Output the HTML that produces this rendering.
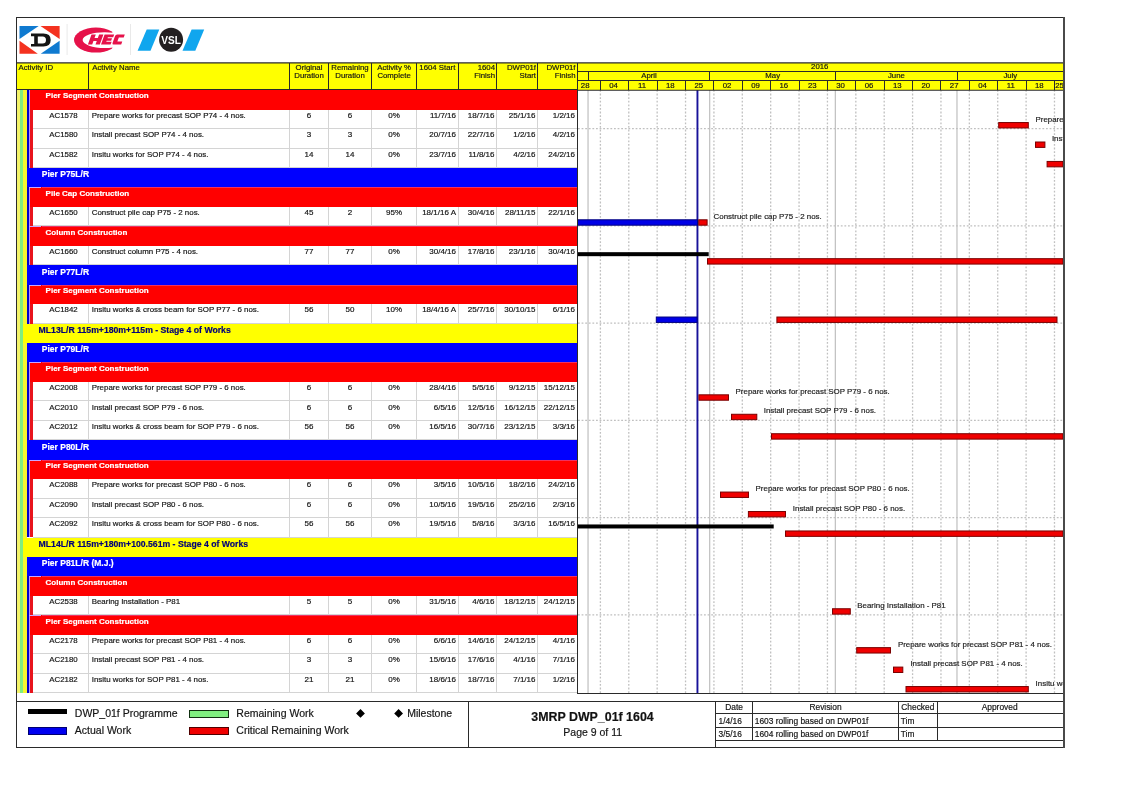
<!DOCTYPE html>
<html><head><meta charset="utf-8"><title>3MRP DWP_01f 1604</title>
<style>
html,body{margin:0;padding:0;background:#fff;}
body{width:1123px;height:793px;position:relative;overflow:hidden;font-family:"Liberation Sans", sans-serif;}
#p{position:absolute;left:0;top:0;width:1123px;height:793px;overflow:hidden;will-change:transform;}
#p div{position:absolute;white-space:nowrap;-webkit-text-stroke:0.18px currentColor;}
#p svg{position:absolute;left:0;top:0;}
</style></head><body><div id="p">
<div style="left:17.00px;top:63.00px;width:1046.50px;height:27.00px;background:#ffff00;"></div>
<div style="left:17.00px;top:90.20px;width:2.50px;height:602.89px;background:#f4f46a;"></div>
<div style="left:19.50px;top:90.20px;width:3.70px;height:602.89px;background:#80ee80;"></div>
<div style="left:23.20px;top:90.20px;width:3.40px;height:602.89px;background:#f6f630;"></div>
<div style="left:26.50px;top:90.20px;width:2.60px;height:19.45px;background:#0000c8;"></div>
<div style="left:29.10px;top:90.20px;width:1.20px;height:19.45px;background:#b090ff;"></div>
<div style="left:30.30px;top:90.20px;width:546.70px;height:19.45px;background:#ff0000;"></div>
<div style="left:45.60px;top:91.45px;font-size:8px;line-height:9px;color:#fff;font-weight:bold;">Pier Segment Construction</div>
<div style="left:26.50px;top:109.65px;width:2.60px;height:19.45px;background:#0000c8;"></div>
<div style="left:29.10px;top:109.65px;width:1.20px;height:19.45px;background:#b090ff;"></div>
<div style="left:30.30px;top:109.65px;width:3.00px;height:19.45px;background:#e8141c;"></div>
<div style="left:33.30px;top:128.20px;width:543.70px;height:1.00px;background:#d4d4d4;"></div>
<div style="left:88.10px;top:109.65px;width:1.00px;height:19.45px;background:#d4d4d4;"></div>
<div style="left:289.00px;top:109.65px;width:1.00px;height:19.45px;background:#d4d4d4;"></div>
<div style="left:328.00px;top:109.65px;width:1.00px;height:19.45px;background:#d4d4d4;"></div>
<div style="left:371.00px;top:109.65px;width:1.00px;height:19.45px;background:#d4d4d4;"></div>
<div style="left:416.20px;top:109.65px;width:1.00px;height:19.45px;background:#d4d4d4;"></div>
<div style="left:457.50px;top:109.65px;width:1.00px;height:19.45px;background:#d4d4d4;"></div>
<div style="left:496.00px;top:109.65px;width:1.00px;height:19.45px;background:#d4d4d4;"></div>
<div style="left:537.00px;top:109.65px;width:1.00px;height:19.45px;background:#d4d4d4;"></div>
<div style="left:38.50px;top:110.90px;font-size:7.85px;line-height:9px;color:#141414;width:50.00px;text-align:center;">AC1578</div>
<div style="left:91.70px;top:110.90px;font-size:7.92px;line-height:9px;color:#141414;">Prepare works for precast SOP P74 - 4 nos.</div>
<div style="left:289.50px;top:110.90px;font-size:8px;line-height:9px;color:#141414;width:39.00px;text-align:center;">6</div>
<div style="left:328.50px;top:110.90px;font-size:8px;line-height:9px;color:#141414;width:43.00px;text-align:center;">6</div>
<div style="left:371.50px;top:110.90px;font-size:8px;line-height:9px;color:#141414;width:45.20px;text-align:center;">0%</div>
<div style="left:416.70px;top:110.90px;font-size:8px;line-height:9px;color:#141414;width:39.30px;text-align:right;">11/7/16</div>
<div style="left:458.00px;top:110.90px;font-size:8px;line-height:9px;color:#141414;width:36.50px;text-align:right;">18/7/16</div>
<div style="left:496.50px;top:110.90px;font-size:8px;line-height:9px;color:#141414;width:39.00px;text-align:right;">25/1/16</div>
<div style="left:537.50px;top:110.90px;font-size:8px;line-height:9px;color:#141414;width:37.50px;text-align:right;">1/2/16</div>
<div style="left:26.50px;top:129.10px;width:2.60px;height:19.45px;background:#0000c8;"></div>
<div style="left:29.10px;top:129.10px;width:1.20px;height:19.45px;background:#b090ff;"></div>
<div style="left:30.30px;top:129.10px;width:3.00px;height:19.45px;background:#e8141c;"></div>
<div style="left:33.30px;top:147.64px;width:543.70px;height:1.00px;background:#d4d4d4;"></div>
<div style="left:88.10px;top:129.10px;width:1.00px;height:19.45px;background:#d4d4d4;"></div>
<div style="left:289.00px;top:129.10px;width:1.00px;height:19.45px;background:#d4d4d4;"></div>
<div style="left:328.00px;top:129.10px;width:1.00px;height:19.45px;background:#d4d4d4;"></div>
<div style="left:371.00px;top:129.10px;width:1.00px;height:19.45px;background:#d4d4d4;"></div>
<div style="left:416.20px;top:129.10px;width:1.00px;height:19.45px;background:#d4d4d4;"></div>
<div style="left:457.50px;top:129.10px;width:1.00px;height:19.45px;background:#d4d4d4;"></div>
<div style="left:496.00px;top:129.10px;width:1.00px;height:19.45px;background:#d4d4d4;"></div>
<div style="left:537.00px;top:129.10px;width:1.00px;height:19.45px;background:#d4d4d4;"></div>
<div style="left:38.50px;top:130.35px;font-size:7.85px;line-height:9px;color:#141414;width:50.00px;text-align:center;">AC1580</div>
<div style="left:91.70px;top:130.35px;font-size:7.92px;line-height:9px;color:#141414;">Install precast SOP P74 - 4 nos.</div>
<div style="left:289.50px;top:130.35px;font-size:8px;line-height:9px;color:#141414;width:39.00px;text-align:center;">3</div>
<div style="left:328.50px;top:130.35px;font-size:8px;line-height:9px;color:#141414;width:43.00px;text-align:center;">3</div>
<div style="left:371.50px;top:130.35px;font-size:8px;line-height:9px;color:#141414;width:45.20px;text-align:center;">0%</div>
<div style="left:416.70px;top:130.35px;font-size:8px;line-height:9px;color:#141414;width:39.30px;text-align:right;">20/7/16</div>
<div style="left:458.00px;top:130.35px;font-size:8px;line-height:9px;color:#141414;width:36.50px;text-align:right;">22/7/16</div>
<div style="left:496.50px;top:130.35px;font-size:8px;line-height:9px;color:#141414;width:39.00px;text-align:right;">1/2/16</div>
<div style="left:537.50px;top:130.35px;font-size:8px;line-height:9px;color:#141414;width:37.50px;text-align:right;">4/2/16</div>
<div style="left:26.50px;top:148.54px;width:2.60px;height:19.45px;background:#0000c8;"></div>
<div style="left:29.10px;top:148.54px;width:1.20px;height:19.45px;background:#b090ff;"></div>
<div style="left:30.30px;top:148.54px;width:3.00px;height:19.45px;background:#e8141c;"></div>
<div style="left:33.30px;top:167.09px;width:543.70px;height:1.00px;background:#d4d4d4;"></div>
<div style="left:88.10px;top:148.54px;width:1.00px;height:19.45px;background:#d4d4d4;"></div>
<div style="left:289.00px;top:148.54px;width:1.00px;height:19.45px;background:#d4d4d4;"></div>
<div style="left:328.00px;top:148.54px;width:1.00px;height:19.45px;background:#d4d4d4;"></div>
<div style="left:371.00px;top:148.54px;width:1.00px;height:19.45px;background:#d4d4d4;"></div>
<div style="left:416.20px;top:148.54px;width:1.00px;height:19.45px;background:#d4d4d4;"></div>
<div style="left:457.50px;top:148.54px;width:1.00px;height:19.45px;background:#d4d4d4;"></div>
<div style="left:496.00px;top:148.54px;width:1.00px;height:19.45px;background:#d4d4d4;"></div>
<div style="left:537.00px;top:148.54px;width:1.00px;height:19.45px;background:#d4d4d4;"></div>
<div style="left:38.50px;top:149.79px;font-size:7.85px;line-height:9px;color:#141414;width:50.00px;text-align:center;">AC1582</div>
<div style="left:91.70px;top:149.79px;font-size:7.92px;line-height:9px;color:#141414;">Insitu works for SOP P74 - 4 nos.</div>
<div style="left:289.50px;top:149.79px;font-size:8px;line-height:9px;color:#141414;width:39.00px;text-align:center;">14</div>
<div style="left:328.50px;top:149.79px;font-size:8px;line-height:9px;color:#141414;width:43.00px;text-align:center;">14</div>
<div style="left:371.50px;top:149.79px;font-size:8px;line-height:9px;color:#141414;width:45.20px;text-align:center;">0%</div>
<div style="left:416.70px;top:149.79px;font-size:8px;line-height:9px;color:#141414;width:39.30px;text-align:right;">23/7/16</div>
<div style="left:458.00px;top:149.79px;font-size:8px;line-height:9px;color:#141414;width:36.50px;text-align:right;">11/8/16</div>
<div style="left:496.50px;top:149.79px;font-size:8px;line-height:9px;color:#141414;width:39.00px;text-align:right;">4/2/16</div>
<div style="left:537.50px;top:149.79px;font-size:8px;line-height:9px;color:#141414;width:37.50px;text-align:right;">24/2/16</div>
<div style="left:26.50px;top:167.99px;width:550.50px;height:19.45px;background:#0000ff;"></div>
<div style="left:41.80px;top:169.29px;font-size:8.5px;line-height:10px;color:#fff;font-weight:bold;">Pier P75L/R</div>
<div style="left:26.50px;top:187.44px;width:2.60px;height:19.45px;background:#0000c8;"></div>
<div style="left:29.10px;top:187.44px;width:1.20px;height:19.45px;background:#b090ff;"></div>
<div style="left:30.30px;top:187.44px;width:546.70px;height:19.45px;background:#ff0000;"></div>
<div style="left:29.10px;top:187.44px;width:12.40px;height:1.00px;background:#c9a6ff;"></div>
<div style="left:41.50px;top:187.44px;width:535.50px;height:1.00px;background:#f03060;"></div>
<div style="left:45.60px;top:188.69px;font-size:8px;line-height:9px;color:#fff;font-weight:bold;">Pile Cap Construction</div>
<div style="left:26.50px;top:206.89px;width:2.60px;height:19.45px;background:#0000c8;"></div>
<div style="left:29.10px;top:206.89px;width:1.20px;height:19.45px;background:#b090ff;"></div>
<div style="left:30.30px;top:206.89px;width:3.00px;height:19.45px;background:#e8141c;"></div>
<div style="left:33.30px;top:225.44px;width:543.70px;height:1.00px;background:#d4d4d4;"></div>
<div style="left:88.10px;top:206.89px;width:1.00px;height:19.45px;background:#d4d4d4;"></div>
<div style="left:289.00px;top:206.89px;width:1.00px;height:19.45px;background:#d4d4d4;"></div>
<div style="left:328.00px;top:206.89px;width:1.00px;height:19.45px;background:#d4d4d4;"></div>
<div style="left:371.00px;top:206.89px;width:1.00px;height:19.45px;background:#d4d4d4;"></div>
<div style="left:416.20px;top:206.89px;width:1.00px;height:19.45px;background:#d4d4d4;"></div>
<div style="left:457.50px;top:206.89px;width:1.00px;height:19.45px;background:#d4d4d4;"></div>
<div style="left:496.00px;top:206.89px;width:1.00px;height:19.45px;background:#d4d4d4;"></div>
<div style="left:537.00px;top:206.89px;width:1.00px;height:19.45px;background:#d4d4d4;"></div>
<div style="left:38.50px;top:208.14px;font-size:7.85px;line-height:9px;color:#141414;width:50.00px;text-align:center;">AC1650</div>
<div style="left:91.70px;top:208.14px;font-size:7.92px;line-height:9px;color:#141414;">Construct pile cap P75 - 2 nos.</div>
<div style="left:289.50px;top:208.14px;font-size:8px;line-height:9px;color:#141414;width:39.00px;text-align:center;">45</div>
<div style="left:328.50px;top:208.14px;font-size:8px;line-height:9px;color:#141414;width:43.00px;text-align:center;">2</div>
<div style="left:371.50px;top:208.14px;font-size:8px;line-height:9px;color:#141414;width:45.20px;text-align:center;">95%</div>
<div style="left:416.70px;top:208.14px;font-size:8px;line-height:9px;color:#141414;width:39.30px;text-align:right;">18/1/16 A</div>
<div style="left:458.00px;top:208.14px;font-size:8px;line-height:9px;color:#141414;width:36.50px;text-align:right;">30/4/16</div>
<div style="left:496.50px;top:208.14px;font-size:8px;line-height:9px;color:#141414;width:39.00px;text-align:right;">28/11/15</div>
<div style="left:537.50px;top:208.14px;font-size:8px;line-height:9px;color:#141414;width:37.50px;text-align:right;">22/1/16</div>
<div style="left:26.50px;top:226.34px;width:2.60px;height:19.45px;background:#0000c8;"></div>
<div style="left:29.10px;top:226.34px;width:1.20px;height:19.45px;background:#b090ff;"></div>
<div style="left:30.30px;top:226.34px;width:546.70px;height:19.45px;background:#ff0000;"></div>
<div style="left:29.10px;top:226.34px;width:12.40px;height:1.00px;background:#c9a6ff;"></div>
<div style="left:41.50px;top:226.34px;width:535.50px;height:1.00px;background:#f03060;"></div>
<div style="left:45.60px;top:227.59px;font-size:8px;line-height:9px;color:#fff;font-weight:bold;">Column Construction</div>
<div style="left:26.50px;top:245.78px;width:2.60px;height:19.45px;background:#0000c8;"></div>
<div style="left:29.10px;top:245.78px;width:1.20px;height:19.45px;background:#b090ff;"></div>
<div style="left:30.30px;top:245.78px;width:3.00px;height:19.45px;background:#e8141c;"></div>
<div style="left:33.30px;top:264.33px;width:543.70px;height:1.00px;background:#d4d4d4;"></div>
<div style="left:88.10px;top:245.78px;width:1.00px;height:19.45px;background:#d4d4d4;"></div>
<div style="left:289.00px;top:245.78px;width:1.00px;height:19.45px;background:#d4d4d4;"></div>
<div style="left:328.00px;top:245.78px;width:1.00px;height:19.45px;background:#d4d4d4;"></div>
<div style="left:371.00px;top:245.78px;width:1.00px;height:19.45px;background:#d4d4d4;"></div>
<div style="left:416.20px;top:245.78px;width:1.00px;height:19.45px;background:#d4d4d4;"></div>
<div style="left:457.50px;top:245.78px;width:1.00px;height:19.45px;background:#d4d4d4;"></div>
<div style="left:496.00px;top:245.78px;width:1.00px;height:19.45px;background:#d4d4d4;"></div>
<div style="left:537.00px;top:245.78px;width:1.00px;height:19.45px;background:#d4d4d4;"></div>
<div style="left:38.50px;top:247.03px;font-size:7.85px;line-height:9px;color:#141414;width:50.00px;text-align:center;">AC1660</div>
<div style="left:91.70px;top:247.03px;font-size:7.92px;line-height:9px;color:#141414;">Construct column P75 - 4 nos.</div>
<div style="left:289.50px;top:247.03px;font-size:8px;line-height:9px;color:#141414;width:39.00px;text-align:center;">77</div>
<div style="left:328.50px;top:247.03px;font-size:8px;line-height:9px;color:#141414;width:43.00px;text-align:center;">77</div>
<div style="left:371.50px;top:247.03px;font-size:8px;line-height:9px;color:#141414;width:45.20px;text-align:center;">0%</div>
<div style="left:416.70px;top:247.03px;font-size:8px;line-height:9px;color:#141414;width:39.30px;text-align:right;">30/4/16</div>
<div style="left:458.00px;top:247.03px;font-size:8px;line-height:9px;color:#141414;width:36.50px;text-align:right;">17/8/16</div>
<div style="left:496.50px;top:247.03px;font-size:8px;line-height:9px;color:#141414;width:39.00px;text-align:right;">23/1/16</div>
<div style="left:537.50px;top:247.03px;font-size:8px;line-height:9px;color:#141414;width:37.50px;text-align:right;">30/4/16</div>
<div style="left:26.50px;top:265.23px;width:550.50px;height:19.45px;background:#0000ff;"></div>
<div style="left:41.80px;top:266.53px;font-size:8.5px;line-height:10px;color:#fff;font-weight:bold;">Pier P77L/R</div>
<div style="left:26.50px;top:284.68px;width:2.60px;height:19.45px;background:#0000c8;"></div>
<div style="left:29.10px;top:284.68px;width:1.20px;height:19.45px;background:#b090ff;"></div>
<div style="left:30.30px;top:284.68px;width:546.70px;height:19.45px;background:#ff0000;"></div>
<div style="left:29.10px;top:284.68px;width:12.40px;height:1.00px;background:#c9a6ff;"></div>
<div style="left:41.50px;top:284.68px;width:535.50px;height:1.00px;background:#f03060;"></div>
<div style="left:45.60px;top:285.93px;font-size:8px;line-height:9px;color:#fff;font-weight:bold;">Pier Segment Construction</div>
<div style="left:26.50px;top:304.13px;width:2.60px;height:19.45px;background:#0000c8;"></div>
<div style="left:29.10px;top:304.13px;width:1.20px;height:19.45px;background:#b090ff;"></div>
<div style="left:30.30px;top:304.13px;width:3.00px;height:19.45px;background:#e8141c;"></div>
<div style="left:33.30px;top:322.68px;width:543.70px;height:1.00px;background:#d4d4d4;"></div>
<div style="left:88.10px;top:304.13px;width:1.00px;height:19.45px;background:#d4d4d4;"></div>
<div style="left:289.00px;top:304.13px;width:1.00px;height:19.45px;background:#d4d4d4;"></div>
<div style="left:328.00px;top:304.13px;width:1.00px;height:19.45px;background:#d4d4d4;"></div>
<div style="left:371.00px;top:304.13px;width:1.00px;height:19.45px;background:#d4d4d4;"></div>
<div style="left:416.20px;top:304.13px;width:1.00px;height:19.45px;background:#d4d4d4;"></div>
<div style="left:457.50px;top:304.13px;width:1.00px;height:19.45px;background:#d4d4d4;"></div>
<div style="left:496.00px;top:304.13px;width:1.00px;height:19.45px;background:#d4d4d4;"></div>
<div style="left:537.00px;top:304.13px;width:1.00px;height:19.45px;background:#d4d4d4;"></div>
<div style="left:38.50px;top:305.38px;font-size:7.85px;line-height:9px;color:#141414;width:50.00px;text-align:center;">AC1842</div>
<div style="left:91.70px;top:305.38px;font-size:7.92px;line-height:9px;color:#141414;">Insitu works &amp; cross beam for SOP P77 - 6 nos.</div>
<div style="left:289.50px;top:305.38px;font-size:8px;line-height:9px;color:#141414;width:39.00px;text-align:center;">56</div>
<div style="left:328.50px;top:305.38px;font-size:8px;line-height:9px;color:#141414;width:43.00px;text-align:center;">50</div>
<div style="left:371.50px;top:305.38px;font-size:8px;line-height:9px;color:#141414;width:45.20px;text-align:center;">10%</div>
<div style="left:416.70px;top:305.38px;font-size:8px;line-height:9px;color:#141414;width:39.30px;text-align:right;">18/4/16 A</div>
<div style="left:458.00px;top:305.38px;font-size:8px;line-height:9px;color:#141414;width:36.50px;text-align:right;">25/7/16</div>
<div style="left:496.50px;top:305.38px;font-size:8px;line-height:9px;color:#141414;width:39.00px;text-align:right;">30/10/15</div>
<div style="left:537.50px;top:305.38px;font-size:8px;line-height:9px;color:#141414;width:37.50px;text-align:right;">6/1/16</div>
<div style="left:23.20px;top:323.58px;width:553.80px;height:19.45px;background:#ffff00;"></div>
<div style="left:38.60px;top:325.28px;font-size:8.68px;line-height:10px;color:#00007a;font-weight:bold;">ML13L/R 115m+180m+115m - Stage 4 of Works</div>
<div style="left:26.50px;top:343.02px;width:550.50px;height:19.45px;background:#0000ff;"></div>
<div style="left:41.80px;top:344.32px;font-size:8.5px;line-height:10px;color:#fff;font-weight:bold;">Pier P79L/R</div>
<div style="left:26.50px;top:362.47px;width:2.60px;height:19.45px;background:#0000c8;"></div>
<div style="left:29.10px;top:362.47px;width:1.20px;height:19.45px;background:#b090ff;"></div>
<div style="left:30.30px;top:362.47px;width:546.70px;height:19.45px;background:#ff0000;"></div>
<div style="left:29.10px;top:362.47px;width:12.40px;height:1.00px;background:#c9a6ff;"></div>
<div style="left:41.50px;top:362.47px;width:535.50px;height:1.00px;background:#f03060;"></div>
<div style="left:45.60px;top:363.72px;font-size:8px;line-height:9px;color:#fff;font-weight:bold;">Pier Segment Construction</div>
<div style="left:26.50px;top:381.92px;width:2.60px;height:19.45px;background:#0000c8;"></div>
<div style="left:29.10px;top:381.92px;width:1.20px;height:19.45px;background:#b090ff;"></div>
<div style="left:30.30px;top:381.92px;width:3.00px;height:19.45px;background:#e8141c;"></div>
<div style="left:33.30px;top:400.47px;width:543.70px;height:1.00px;background:#d4d4d4;"></div>
<div style="left:88.10px;top:381.92px;width:1.00px;height:19.45px;background:#d4d4d4;"></div>
<div style="left:289.00px;top:381.92px;width:1.00px;height:19.45px;background:#d4d4d4;"></div>
<div style="left:328.00px;top:381.92px;width:1.00px;height:19.45px;background:#d4d4d4;"></div>
<div style="left:371.00px;top:381.92px;width:1.00px;height:19.45px;background:#d4d4d4;"></div>
<div style="left:416.20px;top:381.92px;width:1.00px;height:19.45px;background:#d4d4d4;"></div>
<div style="left:457.50px;top:381.92px;width:1.00px;height:19.45px;background:#d4d4d4;"></div>
<div style="left:496.00px;top:381.92px;width:1.00px;height:19.45px;background:#d4d4d4;"></div>
<div style="left:537.00px;top:381.92px;width:1.00px;height:19.45px;background:#d4d4d4;"></div>
<div style="left:38.50px;top:383.17px;font-size:7.85px;line-height:9px;color:#141414;width:50.00px;text-align:center;">AC2008</div>
<div style="left:91.70px;top:383.17px;font-size:7.92px;line-height:9px;color:#141414;">Prepare works for precast SOP P79 - 6 nos.</div>
<div style="left:289.50px;top:383.17px;font-size:8px;line-height:9px;color:#141414;width:39.00px;text-align:center;">6</div>
<div style="left:328.50px;top:383.17px;font-size:8px;line-height:9px;color:#141414;width:43.00px;text-align:center;">6</div>
<div style="left:371.50px;top:383.17px;font-size:8px;line-height:9px;color:#141414;width:45.20px;text-align:center;">0%</div>
<div style="left:416.70px;top:383.17px;font-size:8px;line-height:9px;color:#141414;width:39.30px;text-align:right;">28/4/16</div>
<div style="left:458.00px;top:383.17px;font-size:8px;line-height:9px;color:#141414;width:36.50px;text-align:right;">5/5/16</div>
<div style="left:496.50px;top:383.17px;font-size:8px;line-height:9px;color:#141414;width:39.00px;text-align:right;">9/12/15</div>
<div style="left:537.50px;top:383.17px;font-size:8px;line-height:9px;color:#141414;width:37.50px;text-align:right;">15/12/15</div>
<div style="left:26.50px;top:401.37px;width:2.60px;height:19.45px;background:#0000c8;"></div>
<div style="left:29.10px;top:401.37px;width:1.20px;height:19.45px;background:#b090ff;"></div>
<div style="left:30.30px;top:401.37px;width:3.00px;height:19.45px;background:#e8141c;"></div>
<div style="left:33.30px;top:419.92px;width:543.70px;height:1.00px;background:#d4d4d4;"></div>
<div style="left:88.10px;top:401.37px;width:1.00px;height:19.45px;background:#d4d4d4;"></div>
<div style="left:289.00px;top:401.37px;width:1.00px;height:19.45px;background:#d4d4d4;"></div>
<div style="left:328.00px;top:401.37px;width:1.00px;height:19.45px;background:#d4d4d4;"></div>
<div style="left:371.00px;top:401.37px;width:1.00px;height:19.45px;background:#d4d4d4;"></div>
<div style="left:416.20px;top:401.37px;width:1.00px;height:19.45px;background:#d4d4d4;"></div>
<div style="left:457.50px;top:401.37px;width:1.00px;height:19.45px;background:#d4d4d4;"></div>
<div style="left:496.00px;top:401.37px;width:1.00px;height:19.45px;background:#d4d4d4;"></div>
<div style="left:537.00px;top:401.37px;width:1.00px;height:19.45px;background:#d4d4d4;"></div>
<div style="left:38.50px;top:402.62px;font-size:7.85px;line-height:9px;color:#141414;width:50.00px;text-align:center;">AC2010</div>
<div style="left:91.70px;top:402.62px;font-size:7.92px;line-height:9px;color:#141414;">Install precast SOP P79 - 6 nos.</div>
<div style="left:289.50px;top:402.62px;font-size:8px;line-height:9px;color:#141414;width:39.00px;text-align:center;">6</div>
<div style="left:328.50px;top:402.62px;font-size:8px;line-height:9px;color:#141414;width:43.00px;text-align:center;">6</div>
<div style="left:371.50px;top:402.62px;font-size:8px;line-height:9px;color:#141414;width:45.20px;text-align:center;">0%</div>
<div style="left:416.70px;top:402.62px;font-size:8px;line-height:9px;color:#141414;width:39.30px;text-align:right;">6/5/16</div>
<div style="left:458.00px;top:402.62px;font-size:8px;line-height:9px;color:#141414;width:36.50px;text-align:right;">12/5/16</div>
<div style="left:496.50px;top:402.62px;font-size:8px;line-height:9px;color:#141414;width:39.00px;text-align:right;">16/12/15</div>
<div style="left:537.50px;top:402.62px;font-size:8px;line-height:9px;color:#141414;width:37.50px;text-align:right;">22/12/15</div>
<div style="left:26.50px;top:420.82px;width:2.60px;height:19.45px;background:#0000c8;"></div>
<div style="left:29.10px;top:420.82px;width:1.20px;height:19.45px;background:#b090ff;"></div>
<div style="left:30.30px;top:420.82px;width:3.00px;height:19.45px;background:#e8141c;"></div>
<div style="left:33.30px;top:439.36px;width:543.70px;height:1.00px;background:#d4d4d4;"></div>
<div style="left:88.10px;top:420.82px;width:1.00px;height:19.45px;background:#d4d4d4;"></div>
<div style="left:289.00px;top:420.82px;width:1.00px;height:19.45px;background:#d4d4d4;"></div>
<div style="left:328.00px;top:420.82px;width:1.00px;height:19.45px;background:#d4d4d4;"></div>
<div style="left:371.00px;top:420.82px;width:1.00px;height:19.45px;background:#d4d4d4;"></div>
<div style="left:416.20px;top:420.82px;width:1.00px;height:19.45px;background:#d4d4d4;"></div>
<div style="left:457.50px;top:420.82px;width:1.00px;height:19.45px;background:#d4d4d4;"></div>
<div style="left:496.00px;top:420.82px;width:1.00px;height:19.45px;background:#d4d4d4;"></div>
<div style="left:537.00px;top:420.82px;width:1.00px;height:19.45px;background:#d4d4d4;"></div>
<div style="left:38.50px;top:422.07px;font-size:7.85px;line-height:9px;color:#141414;width:50.00px;text-align:center;">AC2012</div>
<div style="left:91.70px;top:422.07px;font-size:7.92px;line-height:9px;color:#141414;">Insitu works &amp; cross beam for SOP P79 - 6 nos.</div>
<div style="left:289.50px;top:422.07px;font-size:8px;line-height:9px;color:#141414;width:39.00px;text-align:center;">56</div>
<div style="left:328.50px;top:422.07px;font-size:8px;line-height:9px;color:#141414;width:43.00px;text-align:center;">56</div>
<div style="left:371.50px;top:422.07px;font-size:8px;line-height:9px;color:#141414;width:45.20px;text-align:center;">0%</div>
<div style="left:416.70px;top:422.07px;font-size:8px;line-height:9px;color:#141414;width:39.30px;text-align:right;">16/5/16</div>
<div style="left:458.00px;top:422.07px;font-size:8px;line-height:9px;color:#141414;width:36.50px;text-align:right;">30/7/16</div>
<div style="left:496.50px;top:422.07px;font-size:8px;line-height:9px;color:#141414;width:39.00px;text-align:right;">23/12/15</div>
<div style="left:537.50px;top:422.07px;font-size:8px;line-height:9px;color:#141414;width:37.50px;text-align:right;">3/3/16</div>
<div style="left:26.50px;top:440.26px;width:550.50px;height:19.45px;background:#0000ff;"></div>
<div style="left:41.80px;top:441.56px;font-size:8.5px;line-height:10px;color:#fff;font-weight:bold;">Pier P80L/R</div>
<div style="left:26.50px;top:459.71px;width:2.60px;height:19.45px;background:#0000c8;"></div>
<div style="left:29.10px;top:459.71px;width:1.20px;height:19.45px;background:#b090ff;"></div>
<div style="left:30.30px;top:459.71px;width:546.70px;height:19.45px;background:#ff0000;"></div>
<div style="left:29.10px;top:459.71px;width:12.40px;height:1.00px;background:#c9a6ff;"></div>
<div style="left:41.50px;top:459.71px;width:535.50px;height:1.00px;background:#f03060;"></div>
<div style="left:45.60px;top:460.96px;font-size:8px;line-height:9px;color:#fff;font-weight:bold;">Pier Segment Construction</div>
<div style="left:26.50px;top:479.16px;width:2.60px;height:19.45px;background:#0000c8;"></div>
<div style="left:29.10px;top:479.16px;width:1.20px;height:19.45px;background:#b090ff;"></div>
<div style="left:30.30px;top:479.16px;width:3.00px;height:19.45px;background:#e8141c;"></div>
<div style="left:33.30px;top:497.71px;width:543.70px;height:1.00px;background:#d4d4d4;"></div>
<div style="left:88.10px;top:479.16px;width:1.00px;height:19.45px;background:#d4d4d4;"></div>
<div style="left:289.00px;top:479.16px;width:1.00px;height:19.45px;background:#d4d4d4;"></div>
<div style="left:328.00px;top:479.16px;width:1.00px;height:19.45px;background:#d4d4d4;"></div>
<div style="left:371.00px;top:479.16px;width:1.00px;height:19.45px;background:#d4d4d4;"></div>
<div style="left:416.20px;top:479.16px;width:1.00px;height:19.45px;background:#d4d4d4;"></div>
<div style="left:457.50px;top:479.16px;width:1.00px;height:19.45px;background:#d4d4d4;"></div>
<div style="left:496.00px;top:479.16px;width:1.00px;height:19.45px;background:#d4d4d4;"></div>
<div style="left:537.00px;top:479.16px;width:1.00px;height:19.45px;background:#d4d4d4;"></div>
<div style="left:38.50px;top:480.41px;font-size:7.85px;line-height:9px;color:#141414;width:50.00px;text-align:center;">AC2088</div>
<div style="left:91.70px;top:480.41px;font-size:7.92px;line-height:9px;color:#141414;">Prepare works for precast SOP P80 - 6 nos.</div>
<div style="left:289.50px;top:480.41px;font-size:8px;line-height:9px;color:#141414;width:39.00px;text-align:center;">6</div>
<div style="left:328.50px;top:480.41px;font-size:8px;line-height:9px;color:#141414;width:43.00px;text-align:center;">6</div>
<div style="left:371.50px;top:480.41px;font-size:8px;line-height:9px;color:#141414;width:45.20px;text-align:center;">0%</div>
<div style="left:416.70px;top:480.41px;font-size:8px;line-height:9px;color:#141414;width:39.30px;text-align:right;">3/5/16</div>
<div style="left:458.00px;top:480.41px;font-size:8px;line-height:9px;color:#141414;width:36.50px;text-align:right;">10/5/16</div>
<div style="left:496.50px;top:480.41px;font-size:8px;line-height:9px;color:#141414;width:39.00px;text-align:right;">18/2/16</div>
<div style="left:537.50px;top:480.41px;font-size:8px;line-height:9px;color:#141414;width:37.50px;text-align:right;">24/2/16</div>
<div style="left:26.50px;top:498.61px;width:2.60px;height:19.45px;background:#0000c8;"></div>
<div style="left:29.10px;top:498.61px;width:1.20px;height:19.45px;background:#b090ff;"></div>
<div style="left:30.30px;top:498.61px;width:3.00px;height:19.45px;background:#e8141c;"></div>
<div style="left:33.30px;top:517.16px;width:543.70px;height:1.00px;background:#d4d4d4;"></div>
<div style="left:88.10px;top:498.61px;width:1.00px;height:19.45px;background:#d4d4d4;"></div>
<div style="left:289.00px;top:498.61px;width:1.00px;height:19.45px;background:#d4d4d4;"></div>
<div style="left:328.00px;top:498.61px;width:1.00px;height:19.45px;background:#d4d4d4;"></div>
<div style="left:371.00px;top:498.61px;width:1.00px;height:19.45px;background:#d4d4d4;"></div>
<div style="left:416.20px;top:498.61px;width:1.00px;height:19.45px;background:#d4d4d4;"></div>
<div style="left:457.50px;top:498.61px;width:1.00px;height:19.45px;background:#d4d4d4;"></div>
<div style="left:496.00px;top:498.61px;width:1.00px;height:19.45px;background:#d4d4d4;"></div>
<div style="left:537.00px;top:498.61px;width:1.00px;height:19.45px;background:#d4d4d4;"></div>
<div style="left:38.50px;top:499.86px;font-size:7.85px;line-height:9px;color:#141414;width:50.00px;text-align:center;">AC2090</div>
<div style="left:91.70px;top:499.86px;font-size:7.92px;line-height:9px;color:#141414;">Install precast SOP P80 - 6 nos.</div>
<div style="left:289.50px;top:499.86px;font-size:8px;line-height:9px;color:#141414;width:39.00px;text-align:center;">6</div>
<div style="left:328.50px;top:499.86px;font-size:8px;line-height:9px;color:#141414;width:43.00px;text-align:center;">6</div>
<div style="left:371.50px;top:499.86px;font-size:8px;line-height:9px;color:#141414;width:45.20px;text-align:center;">0%</div>
<div style="left:416.70px;top:499.86px;font-size:8px;line-height:9px;color:#141414;width:39.30px;text-align:right;">10/5/16</div>
<div style="left:458.00px;top:499.86px;font-size:8px;line-height:9px;color:#141414;width:36.50px;text-align:right;">19/5/16</div>
<div style="left:496.50px;top:499.86px;font-size:8px;line-height:9px;color:#141414;width:39.00px;text-align:right;">25/2/16</div>
<div style="left:537.50px;top:499.86px;font-size:8px;line-height:9px;color:#141414;width:37.50px;text-align:right;">2/3/16</div>
<div style="left:26.50px;top:518.06px;width:2.60px;height:19.45px;background:#0000c8;"></div>
<div style="left:29.10px;top:518.06px;width:1.20px;height:19.45px;background:#b090ff;"></div>
<div style="left:30.30px;top:518.06px;width:3.00px;height:19.45px;background:#e8141c;"></div>
<div style="left:33.30px;top:536.60px;width:543.70px;height:1.00px;background:#d4d4d4;"></div>
<div style="left:88.10px;top:518.06px;width:1.00px;height:19.45px;background:#d4d4d4;"></div>
<div style="left:289.00px;top:518.06px;width:1.00px;height:19.45px;background:#d4d4d4;"></div>
<div style="left:328.00px;top:518.06px;width:1.00px;height:19.45px;background:#d4d4d4;"></div>
<div style="left:371.00px;top:518.06px;width:1.00px;height:19.45px;background:#d4d4d4;"></div>
<div style="left:416.20px;top:518.06px;width:1.00px;height:19.45px;background:#d4d4d4;"></div>
<div style="left:457.50px;top:518.06px;width:1.00px;height:19.45px;background:#d4d4d4;"></div>
<div style="left:496.00px;top:518.06px;width:1.00px;height:19.45px;background:#d4d4d4;"></div>
<div style="left:537.00px;top:518.06px;width:1.00px;height:19.45px;background:#d4d4d4;"></div>
<div style="left:38.50px;top:519.31px;font-size:7.85px;line-height:9px;color:#141414;width:50.00px;text-align:center;">AC2092</div>
<div style="left:91.70px;top:519.31px;font-size:7.92px;line-height:9px;color:#141414;">Insitu works &amp; cross beam for SOP P80 - 6 nos.</div>
<div style="left:289.50px;top:519.31px;font-size:8px;line-height:9px;color:#141414;width:39.00px;text-align:center;">56</div>
<div style="left:328.50px;top:519.31px;font-size:8px;line-height:9px;color:#141414;width:43.00px;text-align:center;">56</div>
<div style="left:371.50px;top:519.31px;font-size:8px;line-height:9px;color:#141414;width:45.20px;text-align:center;">0%</div>
<div style="left:416.70px;top:519.31px;font-size:8px;line-height:9px;color:#141414;width:39.30px;text-align:right;">19/5/16</div>
<div style="left:458.00px;top:519.31px;font-size:8px;line-height:9px;color:#141414;width:36.50px;text-align:right;">5/8/16</div>
<div style="left:496.50px;top:519.31px;font-size:8px;line-height:9px;color:#141414;width:39.00px;text-align:right;">3/3/16</div>
<div style="left:537.50px;top:519.31px;font-size:8px;line-height:9px;color:#141414;width:37.50px;text-align:right;">16/5/16</div>
<div style="left:23.20px;top:537.50px;width:553.80px;height:19.45px;background:#ffff00;"></div>
<div style="left:38.60px;top:539.20px;font-size:8.68px;line-height:10px;color:#00007a;font-weight:bold;">ML14L/R 115m+180m+100.561m - Stage 4 of Works</div>
<div style="left:26.50px;top:556.95px;width:550.50px;height:19.45px;background:#0000ff;"></div>
<div style="left:41.80px;top:558.25px;font-size:8.5px;line-height:10px;color:#fff;font-weight:bold;">Pier P81L/R (M.J.)</div>
<div style="left:26.50px;top:576.40px;width:2.60px;height:19.45px;background:#0000c8;"></div>
<div style="left:29.10px;top:576.40px;width:1.20px;height:19.45px;background:#b090ff;"></div>
<div style="left:30.30px;top:576.40px;width:546.70px;height:19.45px;background:#ff0000;"></div>
<div style="left:29.10px;top:576.40px;width:12.40px;height:1.00px;background:#c9a6ff;"></div>
<div style="left:41.50px;top:576.40px;width:535.50px;height:1.00px;background:#f03060;"></div>
<div style="left:45.60px;top:577.65px;font-size:8px;line-height:9px;color:#fff;font-weight:bold;">Column Construction</div>
<div style="left:26.50px;top:595.85px;width:2.60px;height:19.45px;background:#0000c8;"></div>
<div style="left:29.10px;top:595.85px;width:1.20px;height:19.45px;background:#b090ff;"></div>
<div style="left:30.30px;top:595.85px;width:3.00px;height:19.45px;background:#e8141c;"></div>
<div style="left:33.30px;top:614.40px;width:543.70px;height:1.00px;background:#d4d4d4;"></div>
<div style="left:88.10px;top:595.85px;width:1.00px;height:19.45px;background:#d4d4d4;"></div>
<div style="left:289.00px;top:595.85px;width:1.00px;height:19.45px;background:#d4d4d4;"></div>
<div style="left:328.00px;top:595.85px;width:1.00px;height:19.45px;background:#d4d4d4;"></div>
<div style="left:371.00px;top:595.85px;width:1.00px;height:19.45px;background:#d4d4d4;"></div>
<div style="left:416.20px;top:595.85px;width:1.00px;height:19.45px;background:#d4d4d4;"></div>
<div style="left:457.50px;top:595.85px;width:1.00px;height:19.45px;background:#d4d4d4;"></div>
<div style="left:496.00px;top:595.85px;width:1.00px;height:19.45px;background:#d4d4d4;"></div>
<div style="left:537.00px;top:595.85px;width:1.00px;height:19.45px;background:#d4d4d4;"></div>
<div style="left:38.50px;top:597.10px;font-size:7.85px;line-height:9px;color:#141414;width:50.00px;text-align:center;">AC2538</div>
<div style="left:91.70px;top:597.10px;font-size:7.92px;line-height:9px;color:#141414;">Bearing Installation - P81</div>
<div style="left:289.50px;top:597.10px;font-size:8px;line-height:9px;color:#141414;width:39.00px;text-align:center;">5</div>
<div style="left:328.50px;top:597.10px;font-size:8px;line-height:9px;color:#141414;width:43.00px;text-align:center;">5</div>
<div style="left:371.50px;top:597.10px;font-size:8px;line-height:9px;color:#141414;width:45.20px;text-align:center;">0%</div>
<div style="left:416.70px;top:597.10px;font-size:8px;line-height:9px;color:#141414;width:39.30px;text-align:right;">31/5/16</div>
<div style="left:458.00px;top:597.10px;font-size:8px;line-height:9px;color:#141414;width:36.50px;text-align:right;">4/6/16</div>
<div style="left:496.50px;top:597.10px;font-size:8px;line-height:9px;color:#141414;width:39.00px;text-align:right;">18/12/15</div>
<div style="left:537.50px;top:597.10px;font-size:8px;line-height:9px;color:#141414;width:37.50px;text-align:right;">24/12/15</div>
<div style="left:26.50px;top:615.30px;width:2.60px;height:19.45px;background:#0000c8;"></div>
<div style="left:29.10px;top:615.30px;width:1.20px;height:19.45px;background:#b090ff;"></div>
<div style="left:30.30px;top:615.30px;width:546.70px;height:19.45px;background:#ff0000;"></div>
<div style="left:29.10px;top:615.30px;width:12.40px;height:1.00px;background:#c9a6ff;"></div>
<div style="left:41.50px;top:615.30px;width:535.50px;height:1.00px;background:#f03060;"></div>
<div style="left:45.60px;top:616.55px;font-size:8px;line-height:9px;color:#fff;font-weight:bold;">Pier Segment Construction</div>
<div style="left:26.50px;top:634.74px;width:2.60px;height:19.45px;background:#0000c8;"></div>
<div style="left:29.10px;top:634.74px;width:1.20px;height:19.45px;background:#b090ff;"></div>
<div style="left:30.30px;top:634.74px;width:3.00px;height:19.45px;background:#e8141c;"></div>
<div style="left:33.30px;top:653.29px;width:543.70px;height:1.00px;background:#d4d4d4;"></div>
<div style="left:88.10px;top:634.74px;width:1.00px;height:19.45px;background:#d4d4d4;"></div>
<div style="left:289.00px;top:634.74px;width:1.00px;height:19.45px;background:#d4d4d4;"></div>
<div style="left:328.00px;top:634.74px;width:1.00px;height:19.45px;background:#d4d4d4;"></div>
<div style="left:371.00px;top:634.74px;width:1.00px;height:19.45px;background:#d4d4d4;"></div>
<div style="left:416.20px;top:634.74px;width:1.00px;height:19.45px;background:#d4d4d4;"></div>
<div style="left:457.50px;top:634.74px;width:1.00px;height:19.45px;background:#d4d4d4;"></div>
<div style="left:496.00px;top:634.74px;width:1.00px;height:19.45px;background:#d4d4d4;"></div>
<div style="left:537.00px;top:634.74px;width:1.00px;height:19.45px;background:#d4d4d4;"></div>
<div style="left:38.50px;top:635.99px;font-size:7.85px;line-height:9px;color:#141414;width:50.00px;text-align:center;">AC2178</div>
<div style="left:91.70px;top:635.99px;font-size:7.92px;line-height:9px;color:#141414;">Prepare works for precast SOP P81 - 4 nos.</div>
<div style="left:289.50px;top:635.99px;font-size:8px;line-height:9px;color:#141414;width:39.00px;text-align:center;">6</div>
<div style="left:328.50px;top:635.99px;font-size:8px;line-height:9px;color:#141414;width:43.00px;text-align:center;">6</div>
<div style="left:371.50px;top:635.99px;font-size:8px;line-height:9px;color:#141414;width:45.20px;text-align:center;">0%</div>
<div style="left:416.70px;top:635.99px;font-size:8px;line-height:9px;color:#141414;width:39.30px;text-align:right;">6/6/16</div>
<div style="left:458.00px;top:635.99px;font-size:8px;line-height:9px;color:#141414;width:36.50px;text-align:right;">14/6/16</div>
<div style="left:496.50px;top:635.99px;font-size:8px;line-height:9px;color:#141414;width:39.00px;text-align:right;">24/12/15</div>
<div style="left:537.50px;top:635.99px;font-size:8px;line-height:9px;color:#141414;width:37.50px;text-align:right;">4/1/16</div>
<div style="left:26.50px;top:654.19px;width:2.60px;height:19.45px;background:#0000c8;"></div>
<div style="left:29.10px;top:654.19px;width:1.20px;height:19.45px;background:#b090ff;"></div>
<div style="left:30.30px;top:654.19px;width:3.00px;height:19.45px;background:#e8141c;"></div>
<div style="left:33.30px;top:672.74px;width:543.70px;height:1.00px;background:#d4d4d4;"></div>
<div style="left:88.10px;top:654.19px;width:1.00px;height:19.45px;background:#d4d4d4;"></div>
<div style="left:289.00px;top:654.19px;width:1.00px;height:19.45px;background:#d4d4d4;"></div>
<div style="left:328.00px;top:654.19px;width:1.00px;height:19.45px;background:#d4d4d4;"></div>
<div style="left:371.00px;top:654.19px;width:1.00px;height:19.45px;background:#d4d4d4;"></div>
<div style="left:416.20px;top:654.19px;width:1.00px;height:19.45px;background:#d4d4d4;"></div>
<div style="left:457.50px;top:654.19px;width:1.00px;height:19.45px;background:#d4d4d4;"></div>
<div style="left:496.00px;top:654.19px;width:1.00px;height:19.45px;background:#d4d4d4;"></div>
<div style="left:537.00px;top:654.19px;width:1.00px;height:19.45px;background:#d4d4d4;"></div>
<div style="left:38.50px;top:655.44px;font-size:7.85px;line-height:9px;color:#141414;width:50.00px;text-align:center;">AC2180</div>
<div style="left:91.70px;top:655.44px;font-size:7.92px;line-height:9px;color:#141414;">Install precast SOP P81 - 4 nos.</div>
<div style="left:289.50px;top:655.44px;font-size:8px;line-height:9px;color:#141414;width:39.00px;text-align:center;">3</div>
<div style="left:328.50px;top:655.44px;font-size:8px;line-height:9px;color:#141414;width:43.00px;text-align:center;">3</div>
<div style="left:371.50px;top:655.44px;font-size:8px;line-height:9px;color:#141414;width:45.20px;text-align:center;">0%</div>
<div style="left:416.70px;top:655.44px;font-size:8px;line-height:9px;color:#141414;width:39.30px;text-align:right;">15/6/16</div>
<div style="left:458.00px;top:655.44px;font-size:8px;line-height:9px;color:#141414;width:36.50px;text-align:right;">17/6/16</div>
<div style="left:496.50px;top:655.44px;font-size:8px;line-height:9px;color:#141414;width:39.00px;text-align:right;">4/1/16</div>
<div style="left:537.50px;top:655.44px;font-size:8px;line-height:9px;color:#141414;width:37.50px;text-align:right;">7/1/16</div>
<div style="left:26.50px;top:673.64px;width:2.60px;height:19.45px;background:#0000c8;"></div>
<div style="left:29.10px;top:673.64px;width:1.20px;height:19.45px;background:#b090ff;"></div>
<div style="left:30.30px;top:673.64px;width:3.00px;height:19.45px;background:#e8141c;"></div>
<div style="left:33.30px;top:692.19px;width:543.70px;height:1.00px;background:#d4d4d4;"></div>
<div style="left:88.10px;top:673.64px;width:1.00px;height:19.45px;background:#d4d4d4;"></div>
<div style="left:289.00px;top:673.64px;width:1.00px;height:19.45px;background:#d4d4d4;"></div>
<div style="left:328.00px;top:673.64px;width:1.00px;height:19.45px;background:#d4d4d4;"></div>
<div style="left:371.00px;top:673.64px;width:1.00px;height:19.45px;background:#d4d4d4;"></div>
<div style="left:416.20px;top:673.64px;width:1.00px;height:19.45px;background:#d4d4d4;"></div>
<div style="left:457.50px;top:673.64px;width:1.00px;height:19.45px;background:#d4d4d4;"></div>
<div style="left:496.00px;top:673.64px;width:1.00px;height:19.45px;background:#d4d4d4;"></div>
<div style="left:537.00px;top:673.64px;width:1.00px;height:19.45px;background:#d4d4d4;"></div>
<div style="left:38.50px;top:674.89px;font-size:7.85px;line-height:9px;color:#141414;width:50.00px;text-align:center;">AC2182</div>
<div style="left:91.70px;top:674.89px;font-size:7.92px;line-height:9px;color:#141414;">Insitu works for SOP P81 - 4 nos.</div>
<div style="left:289.50px;top:674.89px;font-size:8px;line-height:9px;color:#141414;width:39.00px;text-align:center;">21</div>
<div style="left:328.50px;top:674.89px;font-size:8px;line-height:9px;color:#141414;width:43.00px;text-align:center;">21</div>
<div style="left:371.50px;top:674.89px;font-size:8px;line-height:9px;color:#141414;width:45.20px;text-align:center;">0%</div>
<div style="left:416.70px;top:674.89px;font-size:8px;line-height:9px;color:#141414;width:39.30px;text-align:right;">18/6/16</div>
<div style="left:458.00px;top:674.89px;font-size:8px;line-height:9px;color:#141414;width:36.50px;text-align:right;">18/7/16</div>
<div style="left:496.50px;top:674.89px;font-size:8px;line-height:9px;color:#141414;width:39.00px;text-align:right;">7/1/16</div>
<div style="left:537.50px;top:674.89px;font-size:8px;line-height:9px;color:#141414;width:37.50px;text-align:right;">1/2/16</div>
<div style="left:18.50px;top:63.80px;font-size:7.8px;line-height:8.6px;color:#141414;">Activity ID</div>
<div style="left:92.20px;top:63.80px;font-size:7.8px;line-height:8.6px;color:#141414;">Activity Name</div>
<div style="left:289.50px;top:63.80px;font-size:7.8px;line-height:8.6px;color:#141414;width:39.00px;text-align:center;">Original<br>Duration</div>
<div style="left:328.50px;top:63.80px;font-size:7.8px;line-height:8.6px;color:#141414;width:43.00px;text-align:center;">Remaining<br>Duration</div>
<div style="left:371.50px;top:63.80px;font-size:7.8px;line-height:8.6px;color:#141414;width:45.20px;text-align:center;">Activity %<br>Complete</div>
<div style="left:416.70px;top:63.80px;font-size:7.8px;line-height:8.6px;color:#141414;width:41.30px;text-align:center;">1604 Start</div>
<div style="left:458.00px;top:63.80px;font-size:7.8px;line-height:8.6px;color:#141414;width:37.00px;text-align:right;">1604<br>Finish</div>
<div style="left:496.50px;top:63.80px;font-size:7.8px;line-height:8.6px;color:#141414;width:39.50px;text-align:right;">DWP01f<br>Start</div>
<div style="left:537.50px;top:63.80px;font-size:7.8px;line-height:8.6px;color:#141414;width:38.00px;text-align:right;">DWP01f<br>Finish</div>
<div style="left:88.10px;top:63.00px;width:1.00px;height:27.00px;background:#2a2a2a;"></div>
<div style="left:289.00px;top:63.00px;width:1.00px;height:27.00px;background:#2a2a2a;"></div>
<div style="left:328.00px;top:63.00px;width:1.00px;height:27.00px;background:#2a2a2a;"></div>
<div style="left:371.00px;top:63.00px;width:1.00px;height:27.00px;background:#2a2a2a;"></div>
<div style="left:416.20px;top:63.00px;width:1.00px;height:27.00px;background:#2a2a2a;"></div>
<div style="left:457.50px;top:63.00px;width:1.00px;height:27.00px;background:#2a2a2a;"></div>
<div style="left:496.00px;top:63.00px;width:1.00px;height:27.00px;background:#2a2a2a;"></div>
<div style="left:537.00px;top:63.00px;width:1.00px;height:27.00px;background:#2a2a2a;"></div>
<div style="left:576.50px;top:63.00px;width:1.00px;height:27.00px;background:#2a2a2a;"></div>
<svg width="1123" height="793" viewBox="0 0 1123 793"><line x1="588.04" y1="90.0" x2="588.04" y2="693.09" stroke="#c2c2c2" stroke-width="1.25"/><line x1="709.67" y1="90.0" x2="709.67" y2="693.09" stroke="#c2c2c2" stroke-width="1.25"/><line x1="835.35" y1="90.0" x2="835.35" y2="693.09" stroke="#c2c2c2" stroke-width="1.25"/><line x1="956.98" y1="90.0" x2="956.98" y2="693.09" stroke="#c2c2c2" stroke-width="1.25"/><line x1="600.40" y1="90.0" x2="600.40" y2="693.09" stroke="#c0c0c0" stroke-width="1.3" stroke-dasharray="1.8 1.8"/><line x1="628.78" y1="90.0" x2="628.78" y2="693.09" stroke="#c0c0c0" stroke-width="1.3" stroke-dasharray="1.8 1.8"/><line x1="657.16" y1="90.0" x2="657.16" y2="693.09" stroke="#c0c0c0" stroke-width="1.3" stroke-dasharray="1.8 1.8"/><line x1="685.54" y1="90.0" x2="685.54" y2="693.09" stroke="#c0c0c0" stroke-width="1.3" stroke-dasharray="1.8 1.8"/><line x1="713.92" y1="90.0" x2="713.92" y2="693.09" stroke="#c0c0c0" stroke-width="1.3" stroke-dasharray="1.8 1.8"/><line x1="742.30" y1="90.0" x2="742.30" y2="693.09" stroke="#c0c0c0" stroke-width="1.3" stroke-dasharray="1.8 1.8"/><line x1="770.68" y1="90.0" x2="770.68" y2="693.09" stroke="#c0c0c0" stroke-width="1.3" stroke-dasharray="1.8 1.8"/><line x1="799.06" y1="90.0" x2="799.06" y2="693.09" stroke="#c0c0c0" stroke-width="1.3" stroke-dasharray="1.8 1.8"/><line x1="827.44" y1="90.0" x2="827.44" y2="693.09" stroke="#c0c0c0" stroke-width="1.3" stroke-dasharray="1.8 1.8"/><line x1="855.82" y1="90.0" x2="855.82" y2="693.09" stroke="#c0c0c0" stroke-width="1.3" stroke-dasharray="1.8 1.8"/><line x1="884.20" y1="90.0" x2="884.20" y2="693.09" stroke="#c0c0c0" stroke-width="1.3" stroke-dasharray="1.8 1.8"/><line x1="912.58" y1="90.0" x2="912.58" y2="693.09" stroke="#c0c0c0" stroke-width="1.3" stroke-dasharray="1.8 1.8"/><line x1="940.96" y1="90.0" x2="940.96" y2="693.09" stroke="#c0c0c0" stroke-width="1.3" stroke-dasharray="1.8 1.8"/><line x1="969.34" y1="90.0" x2="969.34" y2="693.09" stroke="#c0c0c0" stroke-width="1.3" stroke-dasharray="1.8 1.8"/><line x1="997.72" y1="90.0" x2="997.72" y2="693.09" stroke="#c0c0c0" stroke-width="1.3" stroke-dasharray="1.8 1.8"/><line x1="1026.10" y1="90.0" x2="1026.10" y2="693.09" stroke="#c0c0c0" stroke-width="1.3" stroke-dasharray="1.8 1.8"/><line x1="1054.48" y1="90.0" x2="1054.48" y2="693.09" stroke="#c0c0c0" stroke-width="1.3" stroke-dasharray="1.8 1.8"/><line x1="578.0" y1="128.60" x2="1063.50" y2="128.60" stroke="#c0c0c0" stroke-width="1.3" stroke-dasharray="1.8 1.8"/><line x1="578.0" y1="225.84" x2="1063.50" y2="225.84" stroke="#c0c0c0" stroke-width="1.3" stroke-dasharray="1.8 1.8"/><line x1="578.0" y1="323.08" x2="1063.50" y2="323.08" stroke="#c0c0c0" stroke-width="1.3" stroke-dasharray="1.8 1.8"/><line x1="578.0" y1="420.32" x2="1063.50" y2="420.32" stroke="#c0c0c0" stroke-width="1.3" stroke-dasharray="1.8 1.8"/><line x1="578.0" y1="517.56" x2="1063.50" y2="517.56" stroke="#c0c0c0" stroke-width="1.3" stroke-dasharray="1.8 1.8"/><line x1="578.0" y1="614.80" x2="1063.50" y2="614.80" stroke="#c0c0c0" stroke-width="1.3" stroke-dasharray="1.8 1.8"/></svg>
<svg width="1123" height="793" viewBox="0 0 1123 793"><line x1="697.45" y1="90.0" x2="697.45" y2="693.09" stroke="#18129a" stroke-width="1.9"/></svg>
<div style="left:577.00px;top:71.00px;width:486.50px;height:1.00px;background:#2a2a2a;"></div>
<div style="left:577.00px;top:80.20px;width:486.50px;height:1.00px;background:#2a2a2a;"></div>
<div style="left:577.00px;top:63.20px;font-size:7.8px;line-height:8px;color:#141414;width:485.50px;text-align:center;">2016</div>
<div style="left:587.74px;top:71.50px;width:1.00px;height:9.20px;background:#2a2a2a;"></div>
<div style="left:588.24px;top:72.10px;font-size:7.8px;line-height:8px;color:#141414;width:121.63px;text-align:center;">April</div>
<div style="left:709.37px;top:71.50px;width:1.00px;height:9.20px;background:#2a2a2a;"></div>
<div style="left:709.87px;top:72.10px;font-size:7.8px;line-height:8px;color:#141414;width:125.68px;text-align:center;">May</div>
<div style="left:835.05px;top:71.50px;width:1.00px;height:9.20px;background:#2a2a2a;"></div>
<div style="left:835.55px;top:72.10px;font-size:7.8px;line-height:8px;color:#141414;width:121.63px;text-align:center;">June</div>
<div style="left:956.68px;top:71.50px;width:1.00px;height:9.20px;background:#2a2a2a;"></div>
<div style="left:957.18px;top:72.10px;font-size:7.8px;line-height:8px;color:#141414;width:106.32px;text-align:center;">July</div>
<div style="left:571.02px;top:82.20px;font-size:7.8px;line-height:8px;color:#141414;width:28.38px;text-align:center;">28</div>
<div style="left:599.90px;top:80.70px;width:1.00px;height:9.30px;background:#2a2a2a;"></div>
<div style="left:599.40px;top:82.20px;font-size:7.8px;line-height:8px;color:#141414;width:28.38px;text-align:center;">04</div>
<div style="left:628.28px;top:80.70px;width:1.00px;height:9.30px;background:#2a2a2a;"></div>
<div style="left:627.78px;top:82.20px;font-size:7.8px;line-height:8px;color:#141414;width:28.38px;text-align:center;">11</div>
<div style="left:656.66px;top:80.70px;width:1.00px;height:9.30px;background:#2a2a2a;"></div>
<div style="left:656.16px;top:82.20px;font-size:7.8px;line-height:8px;color:#141414;width:28.38px;text-align:center;">18</div>
<div style="left:685.04px;top:80.70px;width:1.00px;height:9.30px;background:#2a2a2a;"></div>
<div style="left:684.54px;top:82.20px;font-size:7.8px;line-height:8px;color:#141414;width:28.38px;text-align:center;">25</div>
<div style="left:713.42px;top:80.70px;width:1.00px;height:9.30px;background:#2a2a2a;"></div>
<div style="left:712.92px;top:82.20px;font-size:7.8px;line-height:8px;color:#141414;width:28.38px;text-align:center;">02</div>
<div style="left:741.80px;top:80.70px;width:1.00px;height:9.30px;background:#2a2a2a;"></div>
<div style="left:741.30px;top:82.20px;font-size:7.8px;line-height:8px;color:#141414;width:28.38px;text-align:center;">09</div>
<div style="left:770.18px;top:80.70px;width:1.00px;height:9.30px;background:#2a2a2a;"></div>
<div style="left:769.68px;top:82.20px;font-size:7.8px;line-height:8px;color:#141414;width:28.38px;text-align:center;">16</div>
<div style="left:798.56px;top:80.70px;width:1.00px;height:9.30px;background:#2a2a2a;"></div>
<div style="left:798.06px;top:82.20px;font-size:7.8px;line-height:8px;color:#141414;width:28.38px;text-align:center;">23</div>
<div style="left:826.94px;top:80.70px;width:1.00px;height:9.30px;background:#2a2a2a;"></div>
<div style="left:826.44px;top:82.20px;font-size:7.8px;line-height:8px;color:#141414;width:28.38px;text-align:center;">30</div>
<div style="left:855.32px;top:80.70px;width:1.00px;height:9.30px;background:#2a2a2a;"></div>
<div style="left:854.82px;top:82.20px;font-size:7.8px;line-height:8px;color:#141414;width:28.38px;text-align:center;">06</div>
<div style="left:883.70px;top:80.70px;width:1.00px;height:9.30px;background:#2a2a2a;"></div>
<div style="left:883.20px;top:82.20px;font-size:7.8px;line-height:8px;color:#141414;width:28.38px;text-align:center;">13</div>
<div style="left:912.08px;top:80.70px;width:1.00px;height:9.30px;background:#2a2a2a;"></div>
<div style="left:911.58px;top:82.20px;font-size:7.8px;line-height:8px;color:#141414;width:28.38px;text-align:center;">20</div>
<div style="left:940.46px;top:80.70px;width:1.00px;height:9.30px;background:#2a2a2a;"></div>
<div style="left:939.96px;top:82.20px;font-size:7.8px;line-height:8px;color:#141414;width:28.38px;text-align:center;">27</div>
<div style="left:968.84px;top:80.70px;width:1.00px;height:9.30px;background:#2a2a2a;"></div>
<div style="left:968.34px;top:82.20px;font-size:7.8px;line-height:8px;color:#141414;width:28.38px;text-align:center;">04</div>
<div style="left:997.22px;top:80.70px;width:1.00px;height:9.30px;background:#2a2a2a;"></div>
<div style="left:996.72px;top:82.20px;font-size:7.8px;line-height:8px;color:#141414;width:28.38px;text-align:center;">11</div>
<div style="left:1025.60px;top:80.70px;width:1.00px;height:9.30px;background:#2a2a2a;"></div>
<div style="left:1025.10px;top:82.20px;font-size:7.8px;line-height:8px;color:#141414;width:28.38px;text-align:center;">18</div>
<div style="left:1053.98px;top:80.70px;width:1.00px;height:9.30px;background:#2a2a2a;"></div>
<div style="left:1055.28px;top:82.20px;font-size:7.8px;line-height:8px;color:#141414;width:8.22px;text-align:left;overflow:hidden;">25</div>
<div style="left:1035.50px;top:114.75px;font-size:7.92px;line-height:9px;color:#222;max-width:28.00px;overflow:hidden;">Prepare works for precast SOP P74 - 4 nos.</div>
<div style="left:1051.90px;top:134.20px;font-size:7.92px;line-height:9px;color:#222;max-width:11.60px;overflow:hidden;">Install precast SOP P74 - 4 nos.</div>
<div style="left:713.60px;top:211.99px;font-size:7.92px;line-height:9px;color:#222;max-width:349.90px;overflow:hidden;">Construct pile cap P75 - 2 nos.</div>
<div style="left:735.60px;top:387.02px;font-size:7.92px;line-height:9px;color:#222;max-width:327.90px;overflow:hidden;">Prepare works for precast SOP P79 - 6 nos.</div>
<div style="left:763.70px;top:406.47px;font-size:7.92px;line-height:9px;color:#222;max-width:299.80px;overflow:hidden;">Install precast SOP P79 - 6 nos.</div>
<div style="left:755.60px;top:484.26px;font-size:7.92px;line-height:9px;color:#222;max-width:307.90px;overflow:hidden;">Prepare works for precast SOP P80 - 6 nos.</div>
<div style="left:792.80px;top:503.71px;font-size:7.92px;line-height:9px;color:#222;max-width:270.70px;overflow:hidden;">Install precast SOP P80 - 6 nos.</div>
<div style="left:857.30px;top:600.95px;font-size:7.92px;line-height:9px;color:#222;max-width:206.20px;overflow:hidden;">Bearing Installation - P81</div>
<div style="left:897.90px;top:639.84px;font-size:7.92px;line-height:9px;color:#222;max-width:165.60px;overflow:hidden;">Prepare works for precast SOP P81 - 4 nos.</div>
<div style="left:910.40px;top:659.29px;font-size:7.92px;line-height:9px;color:#222;max-width:153.10px;overflow:hidden;">Install precast SOP P81 - 4 nos.</div>
<div style="left:1035.60px;top:678.74px;font-size:7.92px;line-height:9px;color:#222;max-width:27.90px;overflow:hidden;">Insitu works for SOP P81 - 4 nos.</div>
<svg width="1123" height="793" viewBox="0 0 1123 793"><rect x="998.70" y="122.55" width="29.60" height="5.40" fill="#f00000" stroke="#7a0000" stroke-width="1"/><rect x="1035.50" y="142.00" width="9.40" height="5.40" fill="#f00000" stroke="#7a0000" stroke-width="1"/><rect x="1047.10" y="161.44" width="15.90" height="5.40" fill="#f00000" stroke="#7a0000" stroke-width="1"/><rect x="577.50" y="219.79" width="120.00" height="5.40" fill="#0000e6" stroke="#000080" stroke-width="1"/><rect x="698.70" y="219.79" width="8.40" height="5.40" fill="#f00000" stroke="#7a0000" stroke-width="1"/><rect x="577.00" y="252.18" width="131.70" height="4" fill="#000"/><rect x="707.50" y="258.68" width="355.50" height="5.40" fill="#f00000" stroke="#7a0000" stroke-width="1"/><rect x="656.30" y="317.03" width="40.80" height="5.40" fill="#0000e6" stroke="#000080" stroke-width="1"/><rect x="776.90" y="317.03" width="280.10" height="5.40" fill="#f00000" stroke="#7a0000" stroke-width="1"/><rect x="698.90" y="394.82" width="29.60" height="5.40" fill="#f00000" stroke="#7a0000" stroke-width="1"/><rect x="731.50" y="414.27" width="25.30" height="5.40" fill="#f00000" stroke="#7a0000" stroke-width="1"/><rect x="771.50" y="433.72" width="291.50" height="5.40" fill="#f00000" stroke="#7a0000" stroke-width="1"/><rect x="720.50" y="492.06" width="28.00" height="5.40" fill="#f00000" stroke="#7a0000" stroke-width="1"/><rect x="748.40" y="511.51" width="37.10" height="5.40" fill="#f00000" stroke="#7a0000" stroke-width="1"/><rect x="577.00" y="524.46" width="196.70" height="4" fill="#000"/><rect x="785.50" y="530.96" width="277.50" height="5.40" fill="#f00000" stroke="#7a0000" stroke-width="1"/><rect x="832.50" y="608.75" width="17.80" height="5.40" fill="#f00000" stroke="#7a0000" stroke-width="1"/><rect x="856.70" y="647.64" width="33.80" height="5.40" fill="#f00000" stroke="#7a0000" stroke-width="1"/><rect x="893.50" y="667.09" width="9.30" height="5.40" fill="#f00000" stroke="#7a0000" stroke-width="1"/><rect x="906.00" y="686.54" width="122.30" height="5.40" fill="#f00000" stroke="#7a0000" stroke-width="1"/></svg>
<svg width="1123" height="793" viewBox="0 0 1123 793"><line x1="16.0" y1="62.85" x2="1064.5" y2="62.85" stroke="#2a2a2a" stroke-width="1.3"/></svg>
<div style="left:16.00px;top:89.00px;width:561.00px;height:1.00px;background:#2a2a2a;"></div>
<svg width="1123" height="793" viewBox="0 0 1123 793"><line x1="577.0" y1="90.2" x2="1064.5" y2="90.2" stroke="#2a2a2a" stroke-width="1.05"/></svg>
<div style="left:576.50px;top:63.00px;width:1.20px;height:630.09px;background:#2a2a2a;"></div>
<div style="left:577.00px;top:693.29px;width:487.50px;height:1.20px;background:#2a2a2a;"></div>
<div style="left:16.00px;top:700.90px;width:1048.50px;height:1.30px;background:#2a2a2a;"></div>
<div style="left:468.00px;top:701.50px;width:1.20px;height:46.50px;background:#2a2a2a;"></div>
<div style="left:27.60px;top:709.30px;width:39.60px;height:4.40px;background:#000;"></div>
<div style="left:27.60px;top:726.60px;width:39.60px;height:8.00px;background:#0000f0;box-sizing:border-box;border:1px solid #000070;"></div>
<div style="left:189.00px;top:709.60px;width:39.60px;height:8.00px;background:#80f080;box-sizing:border-box;border:1px solid #103010;"></div>
<div style="left:189.00px;top:726.60px;width:39.60px;height:8.00px;background:#f00000;box-sizing:border-box;border:1px solid #500000;"></div>
<div style="left:74.80px;top:707.20px;font-size:10.5px;line-height:12px;color:#141414;">DWP_01f Programme</div>
<div style="left:74.80px;top:724.40px;font-size:10.5px;line-height:12px;color:#141414;">Actual Work</div>
<div style="left:236.30px;top:707.20px;font-size:10.5px;line-height:12px;color:#141414;">Remaining Work</div>
<div style="left:236.30px;top:724.40px;font-size:10.5px;line-height:12px;color:#141414;">Critical Remaining Work</div>
<div style="left:407.20px;top:707.20px;font-size:10.5px;line-height:12px;color:#141414;">Milestone</div>
<svg width="1123" height="793" viewBox="0 0 1123 793"><path d="M360.5 709 L364.9 713.4 L360.5 717.8 L356.1 713.4Z M398.6 709 L403 713.4 L398.6 717.8 L394.2 713.4Z" fill="#000"/></svg>
<div style="left:471.00px;top:709.60px;font-size:12.4px;line-height:14px;color:#111;width:243.00px;text-align:center;font-weight:bold;">3MRP DWP_01f 1604</div>
<div style="left:471.20px;top:726.40px;font-size:10.5px;line-height:12px;color:#141414;width:243.00px;text-align:center;">Page 9 of 11</div>
<div style="left:715.60px;top:713.20px;width:348.90px;height:1.10px;background:#2a2a2a;"></div>
<div style="left:715.60px;top:726.70px;width:348.90px;height:1.10px;background:#2a2a2a;"></div>
<div style="left:715.60px;top:740.30px;width:348.90px;height:1.10px;background:#2a2a2a;"></div>
<div style="left:715.10px;top:701.50px;width:1.10px;height:46.50px;background:#2a2a2a;"></div>
<div style="left:752.10px;top:701.50px;width:1.10px;height:39.30px;background:#2a2a2a;"></div>
<div style="left:897.90px;top:701.50px;width:1.10px;height:39.30px;background:#2a2a2a;"></div>
<div style="left:936.80px;top:701.50px;width:1.10px;height:39.30px;background:#2a2a2a;"></div>
<div style="left:715.60px;top:702.00px;font-size:8.4px;line-height:10px;color:#141414;width:37.00px;text-align:center;">Date</div>
<div style="left:752.60px;top:702.00px;font-size:8.4px;line-height:10px;color:#141414;width:145.80px;text-align:center;">Revision</div>
<div style="left:898.40px;top:702.00px;font-size:8.4px;line-height:10px;color:#141414;width:38.90px;text-align:center;">Checked</div>
<div style="left:937.30px;top:702.00px;font-size:8.4px;line-height:10px;color:#141414;width:124.70px;text-align:center;">Approved</div>
<div style="left:718.50px;top:715.90px;font-size:8.4px;line-height:10px;color:#141414;">1/4/16</div>
<div style="left:754.80px;top:715.90px;font-size:8.4px;line-height:10px;color:#141414;">1603 rolling based on DWP01f</div>
<div style="left:900.80px;top:715.90px;font-size:8.4px;line-height:10px;color:#141414;">Tim</div>
<div style="left:718.50px;top:729.10px;font-size:8.4px;line-height:10px;color:#141414;">3/5/16</div>
<div style="left:754.80px;top:729.10px;font-size:8.4px;line-height:10px;color:#141414;">1604 rolling based on DWP01f</div>
<div style="left:900.80px;top:729.10px;font-size:8.4px;line-height:10px;color:#141414;">Tim</div>
<div style="left:16.00px;top:16.60px;width:1048.50px;height:1.40px;background:#2a2a2a;"></div>
<div style="left:16.00px;top:747.10px;width:1048.50px;height:1.40px;background:#2a2a2a;"></div>
<div style="left:16.00px;top:17.00px;width:1.00px;height:731.00px;background:#2a2a2a;"></div>
<div style="left:1062.90px;top:17.00px;width:1.70px;height:731.00px;background:#4a4a4a;"></div>
<svg width="1123" height="793" viewBox="0 0 1123 793">
<line x1="67.1" y1="24" x2="67.1" y2="55" stroke="#e6e6e6" stroke-width="0.9"/>
<line x1="130.5" y1="24" x2="130.5" y2="55" stroke="#e6e6e6" stroke-width="0.9"/>
<g>
<polygon points="19.5,26.1 38.7,26.1 19.5,39" fill="#0f7ad0"/>
<polygon points="40.5,26.1 59.6,26.1 59.6,39" fill="#f4321f"/>
<polygon points="19.5,40.8 19.5,53.8 37.8,53.8" fill="#f4321f"/>
<polygon points="59.6,40.8 59.6,53.8 40.75,53.8" fill="#0f7ad0"/>
<path d="M31 33.6 H43.4 Q50.7 33.6 50.7 40.05 Q50.7 46.5 43.4 46.5 H31 V43.9 H34.2 V36.2 H31 Z M37.8 36.4 V43.6 H42.6 Q46 43.6 46 40 Q46 36.4 42.6 36.4 Z" fill="#141414" fill-rule="evenodd"/>
</g>
<g fill="#e6124a">
<ellipse cx="95.9" cy="40.05" rx="21.9" ry="12.55"/>
<ellipse cx="104.6" cy="40.1" rx="22" ry="7.9" fill="#fff"/>
<rect x="112.4" y="27" width="8" height="27" fill="#fff"/>
<g transform="translate(87.9 44.6) skewX(-19.4)">
<path d="M0 0 V-10.2 H4.3 V-6.6 H7.6 V-10.2 H11.9 V0 H7.6 V-3.6 H4.3 V0 Z"/>
<path transform="translate(13.1 0)" d="M0 0 V-10.2 H9.6 V-7.3 H4.3 V-6.35 H8.8 V-3.85 H4.3 V-2.9 H9.6 V0 Z"/>
<path transform="translate(24.1 0)" d="M1.6 0 Q0 0 0 -1.6 V-8.6 Q0 -10.2 1.6 -10.2 H9.2 V-7.2 H4.3 V-3.0 H9.2 V0 Z"/>
</g>
</g>
<g>
<polygon points="137.6,50.8 150.5,50.8 159.3,29.4 146.7,29.4" fill="#10a6ee"/>
<polygon points="182.5,50.8 195.3,50.8 204.2,29.4 191.6,29.4" fill="#10a6ee"/>
<circle cx="171.1" cy="39.8" r="12" fill="#231f20"/>
<text x="171.1" y="43.5" text-anchor="middle" font-family="Liberation Sans, sans-serif" font-weight="bold" font-size="10" fill="#fff" textLength="19.6" lengthAdjust="spacingAndGlyphs">VSL</text>
</g>
</svg>
</div></body></html>
